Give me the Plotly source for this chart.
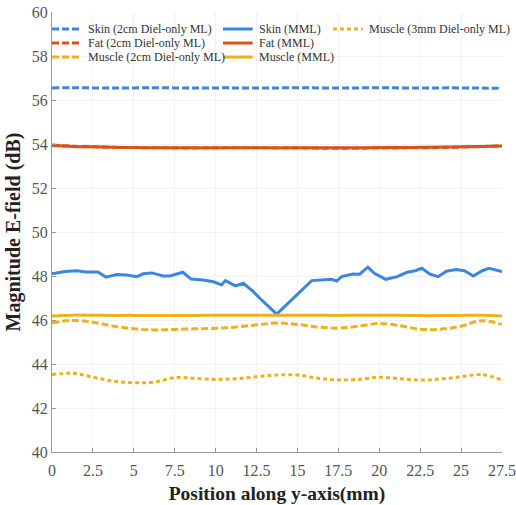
import plotly.graph_objects as go

# Sample positions along the y-axis (mm) for the smooth series
positions = [0, 1.25, 2.5, 3.75, 5, 6.25, 7.5, 8.75, 10, 11.25, 12.5, 13.75,
             15, 16.25, 17.5, 18.75, 20, 21.25, 22.5, 23.75, 25, 26.25, 27.5]

skin_2cm = [56.55, 56.56, 56.55, 56.54, 56.55, 56.56, 56.55, 56.54, 56.55, 56.55, 56.54, 56.55,
            56.56, 56.55, 56.54, 56.55, 56.56, 56.55, 56.54, 56.55, 56.55, 56.54, 56.54]
fat_2cm = [53.95, 53.90, 53.87, 53.85, 53.84, 53.83, 53.82, 53.82, 53.82, 53.83, 53.83, 53.82,
           53.82, 53.81, 53.81, 53.81, 53.82, 53.82, 53.83, 53.84, 53.86, 53.88, 53.92]
fat_mml = [53.93, 53.89, 53.87, 53.85, 53.84, 53.83, 53.83, 53.83, 53.83, 53.83, 53.83, 53.83,
           53.83, 53.83, 53.83, 53.83, 53.84, 53.84, 53.85, 53.86, 53.87, 53.89, 53.91]
muscle_2cm = [45.87, 45.98, 45.90, 45.72, 45.60, 45.55, 45.57, 45.60, 45.62, 45.68, 45.78, 45.86,
              45.80, 45.68, 45.63, 45.72, 45.84, 45.74, 45.58, 45.58, 45.72, 45.97, 45.80]
muscle_mml = [46.18, 46.22, 46.22, 46.21, 46.21, 46.20, 46.21, 46.21, 46.22, 46.22, 46.22, 46.22,
              46.22, 46.22, 46.21, 46.22, 46.22, 46.22, 46.20, 46.20, 46.21, 46.22, 46.18]
muscle_3mm = [43.52, 43.58, 43.40, 43.22, 43.15, 43.18, 43.38, 43.35, 43.30, 43.33, 43.42, 43.50,
              43.50, 43.35, 43.28, 43.30, 43.40, 43.33, 43.27, 43.32, 43.42, 43.52, 43.27]

# Skin with the metamaterial layer has its own, irregular sample positions
skin_mml_pos = [0, 0.8, 1.5, 2.1, 2.8, 3.3, 3.95, 4.57, 5.18, 5.58, 6.1, 6.8, 7.2, 8.0, 8.5,
                9.24, 9.86, 10.37, 10.6, 11.2, 11.7, 12.3, 12.7, 13.73, 15.87, 17.1, 17.4,
                17.7, 18.4, 18.8, 19.3, 19.7, 20.4, 21.1, 21.7, 22.2, 22.6, 23.1, 23.6, 24.1,
                24.7, 25.2, 25.75, 26.3, 26.7, 27.5]
skin_mml = [48.10, 48.20, 48.24, 48.18, 48.18, 47.95, 48.07, 48.05, 47.97, 48.10, 48.14, 48.00,
            48.00, 48.17, 47.86, 47.82, 47.74, 47.60, 47.79, 47.55, 47.67, 47.29, 46.99, 46.27,
            47.79, 47.85, 47.77, 47.97, 48.09, 48.08, 48.40, 48.12, 47.85, 47.97, 48.17, 48.24,
            48.35, 48.08, 47.97, 48.22, 48.30, 48.24, 48.00, 48.24, 48.35, 48.20]

x_ticks = [0, 2.5, 5, 7.5, 10, 12.5, 15, 17.5, 20, 22.5, 25, 27.5]
x_tick_text = ["0", "2.5", "5", "7.5", "10", "12.5", "15", "17.5", "20", "22.5", "25", "27.5"]
y_ticks = [40, 42, 44, 46, 48, 50, 52, 54, 56, 58, 60]

BLUE = "#3A86E0"
ORANGE = "#D95319"
YELLOW = "#EDB120"
SERIF = "Liberation Serif, Times New Roman, serif"
LW = 3
DASH = "7px,3px"
DOT = "4px,3px"

# (name, x, y, colour, dash, smooth, legend column, legend row)
series = [
    ("Skin (2cm Diel-only ML)", positions, skin_2cm, BLUE, DASH, True, 0, 0),
    ("Fat (2cm Diel-only ML)", positions, fat_2cm, ORANGE, DASH, True, 0, 1),
    ("Muscle (2cm Diel-only ML)", positions, muscle_2cm, YELLOW, DASH, True, 0, 2),
    ("Skin (MML)", skin_mml_pos, skin_mml, BLUE, "solid", False, 1, 0),
    ("Fat (MML)", positions, fat_mml, ORANGE, "solid", True, 1, 1),
    ("Muscle (MML)", positions, muscle_mml, YELLOW, "solid", True, 1, 2),
    ("Muscle (3mm Diel-only ML)", positions, muscle_3mm, YELLOW, DOT, True, 2, 0),
]

# Legend layout in plot-area (paper) fractions: three columns, three rows
col_x = [0.0, 0.38, 0.6244]
sample_len = 0.066
text_gap = 0.009
row_y = [0.9614, 0.9295, 0.8977]

fig = go.Figure()
shapes, annotations = [], []
for name, xs, ys, color, dash, smooth, col, row in series:
    fig.add_trace(go.Scatter(
        x=xs, y=ys, name=name, mode="lines", showlegend=False,
        line=dict(color=color, width=LW, dash=dash, shape="spline" if smooth else "linear"),
    ))
    x0 = col_x[col]
    shapes.append(dict(type="line", xref="paper", yref="paper",
                       x0=x0, x1=x0 + sample_len, y0=row_y[row], y1=row_y[row],
                       line=dict(color=color, width=LW, dash=dash)))
    annotations.append(dict(text=name, xref="paper", yref="paper",
                            x=x0 + sample_len + text_gap, y=row_y[row],
                            xanchor="left", yanchor="middle", showarrow=False,
                            font=dict(family=SERIF, size=12, color="#333333")))

axis_common = dict(showgrid=True, gridcolor="#F2F2F2", gridwidth=1, zeroline=False,
                   showline=True, linecolor="#999999", linewidth=1,
                   ticks="inside", ticklen=4, tickcolor="#999999",
                   tickfont=dict(family=SERIF, size=16, color="#555555"))

fig.update_layout(
    width=516, height=505,
    margin=dict(l=52, r=14, t=12, b=53, autoexpand=False),
    paper_bgcolor="white", plot_bgcolor="white",
    showlegend=False,
    shapes=shapes, annotations=annotations,
    xaxis=dict(range=[0, 27.5], tickvals=x_ticks, ticktext=x_tick_text,
               ticklabelstandoff=4,
               title=dict(text="<b>Position along y-axis(mm)</b>", standoff=8,
                          font=dict(family=SERIF, size=19.5, color="#222222")),
               **axis_common),
    yaxis=dict(range=[40, 60], tickvals=y_ticks,
               title=dict(text="<b>Magnitude E-field (dB)</b>", standoff=5,
                          font=dict(family=SERIF, size=20, color="#222222")),
               **axis_common),
)

fig.write_html("out.html")
